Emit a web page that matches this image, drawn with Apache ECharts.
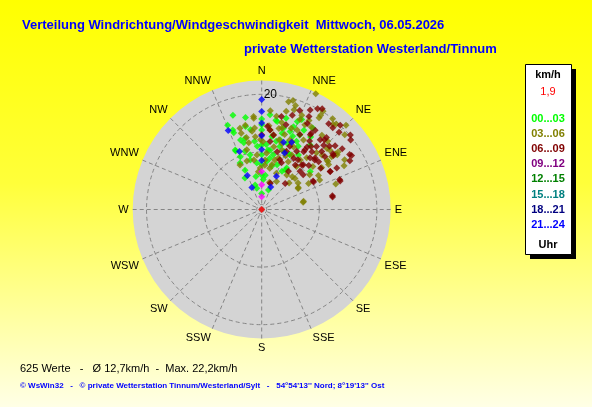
<!DOCTYPE html>
<html>
<head>
<meta charset="utf-8">
<script src="https://cdn.jsdelivr.net/npm/echarts@6/dist/echarts.min.js"></script>
<style>
html,body{margin:0;padding:0;}
#chart{width:592px;height:407px;}
</style>
</head>
<body>
<div id="chart"></div>
<script>
// Richtungsnamen (Winkelachse, 22,5 Grad Schritte)
var directions = ['N','NNE','NE','ENE','E','ESE','SE','SSE','S','SSW','SW','WSW','W','WNW','NW','NNW'];

// Punkte je Tageszeit: [Geschwindigkeit km/h, Richtung Grad]
var pts0003 = [
  [17.1,343],[15.8,338],[16.2,350],[15.7,0],[16.5,5],[14.7,0],[13.8,0],[15.5,10],[16.4,15],[16.5,22],
  [17.1,24],[16.7,32],[14.6,15],[14.4,20],[13.7,15],[12.8,8],[11.9,354],[12.0,345],[11.1,336],[10.5,344],
  [11.0,356],[11.3,4],[12.1,12],[12.3,21],[13.3,27],[15.6,28],[15.2,34],[10.8,21],[9.7,12],[9.5,0],
  [8.1,354],[8.4,6],[8.2,19],[8.4,31],[10.7,52],[6.2,332],[3.8,347],[5.2,3],[2.8,0],[14.7,349],
  [7.8,0],[6.0,0],[7.5,28],[9.0,9],[13.8,23],[12.7,30],[10.4,6],[11.4,16],[10.7,27],[11.4,34],
  [7.7,13],[11.2,0],[9.7,348],[8.9,335],[5.8,350],[3.6,19],[12.7,347],[15.4,21],[14.2,340],[9.9,338],
  [11.3,336],[12.6,343],[14.0,352],[8.8,347],[10.4,8],[12.5,15],[10.7,27],[8.0,31],[14.5,27],[14.0,37],
  [6.0,6],[4.4,345],[15.7,9],[14.7,340],[7.4,337]
];
var pts0306 = [
  [22.2,25],[19.7,16],[19.3,14],[17.2,5],[16.2,355],[18.2,18],[17.8,23],[18.8,32],[19.3,40],[20.7,45],
  [16.2,54],[16.8,59],[14.0,56],[12.7,55],[7.4,59],[7.4,79],[6.6,46],[8.8,343],[14.6,345],[12.8,348],
  [12.7,355],[15.9,355],[14.6,5],[16.4,9],[15.5,13],[17.6,14],[17.0,23],[16.7,31],[16.6,39],[16.5,44],
  [16.0,53],[13.7,44],[11.9,41],[9.6,39],[7.4,36],[5.5,28],[7.3,11],[7.2,358],[6.6,355],[10.7,346],
  [4.9,16],[12.0,17],[12.2,27],[14.1,31],[9.4,18],[9.5,29],[9.8,5],[9.5,355],[13.7,353],[13.7,345],
  [11.8,1],[13.1,9],[11.6,50],[10.3,54],[10.8,29],[20.0,38],[20.1,32],[19.7,41],[16.2,62],[7.8,54],
  [7.3,60],[7.3,80],[13.6,71],[16.6,53],[15.2,53],[14.2,54],[7.8,43],[14.1,48],[15.5,47],[8.6,4],
  [11.1,11],[10.9,19],[12.9,24],[13.6,17],[15.1,24],[13.9,6],[14.4,12],[14.2,355],[11.8,349],[8.7,351],
  [6.8,22],[7.9,47],[9.3,61],[11.5,59],[14.2,53],[10.2,24],[12.5,14],[15.0,20],[17.5,28],[8.0,13],
  [14.9,349],[12.1,359],[8.9,15],[13.0,22],[16.5,27],[19.3,32],[10.9,38],[7.7,4],[8.6,334],[14.6,14],
  [19.0,18],[15.7,49],[19.4,48],[11.3,63]
];
var pts0609 = [
  [18.2,59],[17.5,61],[13.6,61],[12.5,55],[10.2,61],[14.5,69],[12.5,80],[10.6,43],[15.7,52],[20.4,31],
  [20.0,29],[18.9,38],[18.8,41],[19.0,45],[19.6,52],[18.0,58],[14.5,70],[12.5,79],[13.6,61],[15.6,53],
  [14.3,50],[15.5,44],[14.5,41],[14.5,35],[15.8,40],[10.2,62],[10.4,42],[9.4,50],[6.1,42],[4.8,18],
  [16.5,12],[15.3,16],[13.0,0],[13.1,9],[14.6,27],[13.4,36],[13.3,41],[10.5,32],[11.8,31],[11.0,23],
  [8.8,23],[9.4,45],[12.3,43],[12.9,50],[14.9,61],[17.2,18],[16.9,28],[15.8,33],[16.8,42],[16.1,47],
  [12.0,24],[12.4,36],[12.9,46],[14.5,46],[15.5,33],[10.7,36],[8.1,35],[10.4,15],[11.9,7],[14.5,4],
  [18.4,21],[18.1,27],[17.5,53],[13.9,38],[11.2,47],[16.6,34],[16.3,42],[16.9,49],[12.8,36],[12.6,47],
  [9.7,37],[20.0,43],[20.1,50],[19.2,26],[13.9,6],[9.2,20]
];
var pts0912 = [[6.6,0],[4.3,0],[2.2,0]];
var pts2124 = [
  [19.1,0],[17.0,0],[15.0,0],[14.9,337],[12.8,0],[10.4,0],[8.5,0],[6.4,337],[6.3,24],[4.2,336],
  [4.2,22],[12.3,18],[12.8,24],[10.8,339],[10.6,22]
];
var ptsNow = [[0,0]];

// Legende
var legendLabels = ['00...03','03...06','06...09','09...12','12...15','15...18','18...21','21...24'];
var legendColors = ['#00ff00','#808000','#800000','#800080','#008000','#008080','#000080','#0000ff'];

var myChart = echarts.init(document.getElementById('chart'));

var gridLine = { color: '#858585', type: [4, 3], width: 1 };

function pointSeries(name, data, color) {
  return {
    name: name,
    type: 'scatter',
    coordinateSystem: 'polar',
    polarIndex: 0,
    symbol: 'diamond',
    symbolSize: [7, 7],
    itemStyle: { color: color },
    data: data,
    z: 5
  };
}

var legendItems = [
  { type: 'rect', shape: { x: 530, y: 69, width: 46, height: 190 }, style: { fill: '#000' } },
  { type: 'rect', shape: { x: 525.5, y: 64.5, width: 46, height: 190 }, style: { fill: '#fff', stroke: '#000', lineWidth: 1 } },
  { type: 'text', x: 548, y: 75, style: { text: 'km/h', fill: '#000', font: 'bold 11px "Liberation Sans"', align: 'center', verticalAlign: 'middle' } },
  { type: 'text', x: 548, y: 92, style: { text: '1,9', fill: '#ff0000', font: '11px "Liberation Sans"', align: 'center', verticalAlign: 'middle' } },
  { type: 'text', x: 548, y: 245, style: { text: 'Uhr', fill: '#000', font: 'bold 11px "Liberation Sans"', align: 'center', verticalAlign: 'middle' } }
];
legendLabels.forEach(function (t, i) {
  legendItems.push({
    type: 'text', x: 548, y: 119 + i * 15.1,
    style: { text: t, fill: legendColors[i], font: 'bold 11px "Liberation Sans"', align: 'center', verticalAlign: 'middle' }
  });
});

var option = {
  animation: false,
  backgroundColor: {
    type: 'linear', x: 0, y: 0, x2: 0, y2: 1,
    colorStops: [
      { offset: 0, color: '#ffff00' },
      { offset: 0.45, color: '#ffff3a' },
      { offset: 1, color: '#ffffe6' }
    ]
  },
  textStyle: { fontFamily: 'Liberation Sans' },
  polar: [
    { center: [261.7, 209.5], radius: 129 },
    { center: [261.7, 209.5], radius: 129 },
    { center: [261.7, 209.5], radius: 5 }
  ],
  angleAxis: [
    {
      polarIndex: 0,
      type: 'value',
      min: 0,
      max: 360,
      interval: 22.5,
      startAngle: 90,
      clockwise: true,
      z: 2,
      axisLine: { show: false },
      axisTick: { show: false },
      axisLabel: {
        margin: 4,
        color: '#000',
        fontSize: 11,
        formatter: function (v) { return directions[Math.round(v / 22.5) % 16]; }
      },
      splitLine: { show: true, lineStyle: gridLine }
    },
    {
      polarIndex: 1, type: 'value', min: 0, max: 360, startAngle: 90,
      axisLine: { show: false }, axisTick: { show: false }, axisLabel: { show: false }, splitLine: { show: false }
    },
    {
      polarIndex: 2, type: 'value', min: 0, max: 360, startAngle: 90, z: 3,
      axisLine: { show: true, lineStyle: gridLine }, axisTick: { show: false }, axisLabel: { show: false }, splitLine: { show: false }
    }
  ],
  radiusAxis: [
    {
      polarIndex: 0,
      type: 'value',
      min: 0,
      max: 22.4,
      z: 1,
      axisLine: { show: false },
      axisTick: { show: false },
      axisLabel: { show: false },
      splitLine: { show: false },
      splitArea: { show: true, areaStyle: { color: ['#d4d4d4'] } }
    },
    {
      polarIndex: 1,
      type: 'value',
      min: 0,
      max: 22.4,
      interval: 10,
      z: 3,
      axisLine: { show: false },
      axisTick: { show: false },
      axisLabel: {
        color: '#000',
        fontSize: 12,
        align: 'left',
        verticalAlign: 'middle',
        padding: [0, 0, 0, 10],
        formatter: function (v) { return v === 20 ? '20' : ''; }
      },
      splitLine: {
        show: true,
        lineStyle: { color: ['rgba(0,0,0,0)', '#858585', '#858585', 'rgba(0,0,0,0)'], type: [4, 3], width: 1 }
      }
    },
    {
      polarIndex: 2, type: 'value', min: 0, max: 1,
      axisLine: { show: false }, axisTick: { show: false }, axisLabel: { show: false }, splitLine: { show: false }
    }
  ],
  graphic: [
    { type: 'text', x: 22, y: 25, style: { text: 'Verteilung Windrichtung/Windgeschwindigkeit  Mittwoch, 06.05.2026', fill: '#0000ff', font: 'bold 13px "Liberation Sans"', verticalAlign: 'middle' } },
    { type: 'text', x: 244, y: 49, style: { text: 'private Wetterstation Westerland/Tinnum', fill: '#0000ff', font: 'bold 13px "Liberation Sans"', verticalAlign: 'middle' } },
    { type: 'text', x: 20, y: 369, style: { text: '625 Werte   -   Ø 12,7km/h  -  Max. 22,2km/h', fill: '#000', font: '11px "Liberation Sans"', verticalAlign: 'middle' } },
    { type: 'text', x: 20, y: 386, style: { text: "© WsWin32   -   © private Wetterstation Tinnum/Westerland/Sylt   -   54°54'13'' Nord; 8°19'13'' Ost", fill: '#0000ff', font: 'bold 8px "Liberation Sans"', verticalAlign: 'middle' } },
    { type: 'group', children: legendItems }
  ],
  series: [
    pointSeries('00...03', pts0003, '#00ff00'),
    pointSeries('03...06', pts0306, '#808000'),
    pointSeries('06...09', pts0609, '#800000'),
    pointSeries('09...12', pts0912, '#ff00ff'),
    pointSeries('21...24', pts2124, '#0000ff'),
    pointSeries('aktuell', ptsNow, '#ff0000')
  ]
};
myChart.setOption(option);
</script>
</body>
</html>
